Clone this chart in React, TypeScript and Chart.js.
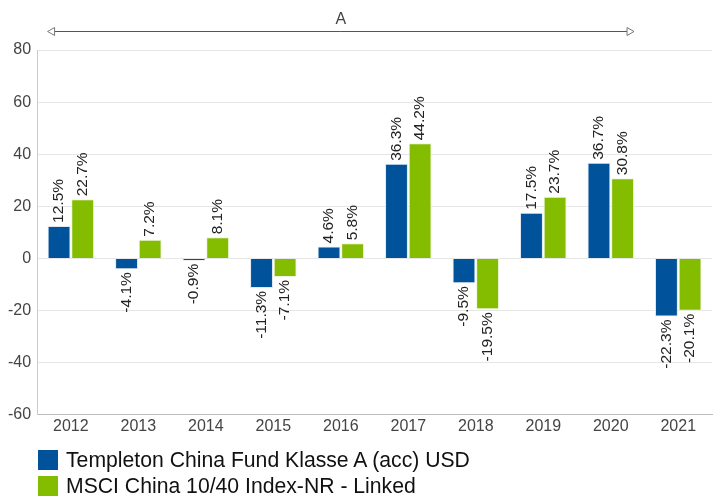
import React, { useEffect, useRef } from "react";
import { Chart, registerables } from "chart.js";

Chart.register(...registerables);

const categories = ["2012", "2013", "2014", "2015", "2016", "2017", "2018", "2019", "2020", "2021"];
const fundValues = [12.5, -4.1, -0.9, -11.3, 4.6, 36.3, -9.5, 17.5, 36.7, -22.3];
const indexValues = [22.7, 7.2, 8.1, -7.1, 5.8, 44.2, -19.5, 23.7, 30.8, -20.1];
const seriesNames = ["Templeton China Fund Klasse A (acc) USD", "MSCI China 10/40 Index-NR - Linked"];
const seriesColors = ["#00539B", "#84BC00"];
const annotationLabel = "A";
const annotationFrom = 0;
const annotationTo = 8;

const FONT = "'Liberation Sans', Arial, sans-serif";

const labelPlugin = {
  id: "barLabels",
  afterDatasetsDraw(chart: any) {
    const ctx = chart.ctx;
    ctx.save();
    ctx.font = `15.5px ${FONT}`;
    ctx.fillStyle = "#222";
    ctx.textBaseline = "middle";
    chart.data.datasets.forEach((ds: any, di: number) => {
      const meta = chart.getDatasetMeta(di);
      meta.data.forEach((bar: any, i: number) => {
        const v = ds.data[i];
        const txt = v.toFixed(1) + "%";
        ctx.save();
        if (v >= 0) {
          ctx.translate(bar.x, bar.y - 3);
          ctx.rotate(-Math.PI / 2);
          ctx.textAlign = "left";
        } else {
          ctx.translate(bar.x, bar.y + 3);
          ctx.rotate(-Math.PI / 2);
          ctx.textAlign = "right";
        }
        ctx.fillText(txt, 0, 0);
        ctx.restore();
      });
    });
    ctx.restore();
  },
};

const arrowPlugin = {
  id: "arrowAnnot",
  afterDraw(chart: any) {
    const ctx = chart.ctx;
    const m0 = chart.getDatasetMeta(0).data[annotationFrom];
    const m1 = chart.getDatasetMeta(1).data[annotationTo];
    if (!m0 || !m1) return;
    const x0 = m0.x - m0.width / 2;
    const x1 = m1.x + m1.width / 2;
    const y = 31;
    ctx.save();
    ctx.strokeStyle = "#555";
    ctx.lineWidth = 1;
    ctx.beginPath();
    ctx.moveTo(x0 + 6, y + 0.5);
    ctx.lineTo(x1 - 6, y + 0.5);
    ctx.stroke();
    ctx.fillStyle = "#fff";
    ctx.strokeStyle = "#777";
    ctx.beginPath();
    ctx.moveTo(x0, y + 0.5);
    ctx.lineTo(x0 + 7, y - 3.5);
    ctx.lineTo(x0 + 7, y + 4.5);
    ctx.closePath();
    ctx.fill();
    ctx.stroke();
    ctx.beginPath();
    ctx.moveTo(x1, y + 0.5);
    ctx.lineTo(x1 - 7, y - 3.5);
    ctx.lineTo(x1 - 7, y + 4.5);
    ctx.closePath();
    ctx.fill();
    ctx.stroke();
    ctx.fillStyle = "#444";
    ctx.font = `16px ${FONT}`;
    ctx.textAlign = "center";
    ctx.textBaseline = "alphabetic";
    ctx.fillText(annotationLabel, (x0 + x1) / 2, 24);
    ctx.restore();
  },
};

export default function App() {
  const ref = useRef<HTMLCanvasElement>(null);
  useEffect(() => {
    document.body.style.margin = "0";
    const chart = new Chart(ref.current!, {
      type: "bar",
      data: {
        labels: categories,
        datasets: [
          {
            label: seriesNames[0],
            data: fundValues,
            backgroundColor: seriesColors[0],
            borderColor: "#dfe8f2",
            borderWidth: 1,
          },
          {
            label: seriesNames[1],
            data: indexValues,
            backgroundColor: seriesColors[1],
            borderColor: "#eef5dc",
            borderWidth: 1,
          },
        ],
      },
      options: {
        animation: false,
        responsive: false,
        maintainAspectRatio: false,
        layout: { padding: { top: 50, right: 2, left: 2, bottom: 60 } },
        datasets: { bar: { categoryPercentage: 0.7, barPercentage: 0.97 } },
        scales: {
          x: {
            grid: { display: false, drawTicks: false },
            border: { color: "#bbb" },
            ticks: { color: "#444", font: { family: FONT, size: 16 }, padding: 2 },
          },
          y: {
            min: -60,
            max: 80,
            grid: { color: "#e6e6e6", drawTicks: false },
            border: { color: "#ccc" },
            ticks: { stepSize: 20, color: "#444", font: { family: FONT, size: 16 }, padding: 6 },
          },
        },
        plugins: {
          tooltip: { enabled: false },
          legend: { display: false },
        },
      },
      plugins: [labelPlugin, arrowPlugin],
    });
    return () => chart.destroy();
  }, []);
  const rowStyle: React.CSSProperties = {
    position: "absolute",
    left: 38,
    display: "flex",
    alignItems: "center",
    height: 24,
    fontFamily: FONT,
    fontSize: 21.2,
    color: "#111",
    whiteSpace: "nowrap",
  };
  return (
    <div style={{ position: "absolute", left: 0, top: 0, width: 714, height: 498 }}>
      <canvas ref={ref} width={714} height={498} style={{ width: 714, height: 498 }} />
      {seriesNames.map((name, i) => (
        <div key={name} style={{ ...rowStyle, top: 448 + i * 26 }}>
          <span style={{ display: "inline-block", width: 20, height: 20, background: seriesColors[i], marginRight: 8 }} />
          <span>{name}</span>
        </div>
      ))}
    </div>
  );
}
